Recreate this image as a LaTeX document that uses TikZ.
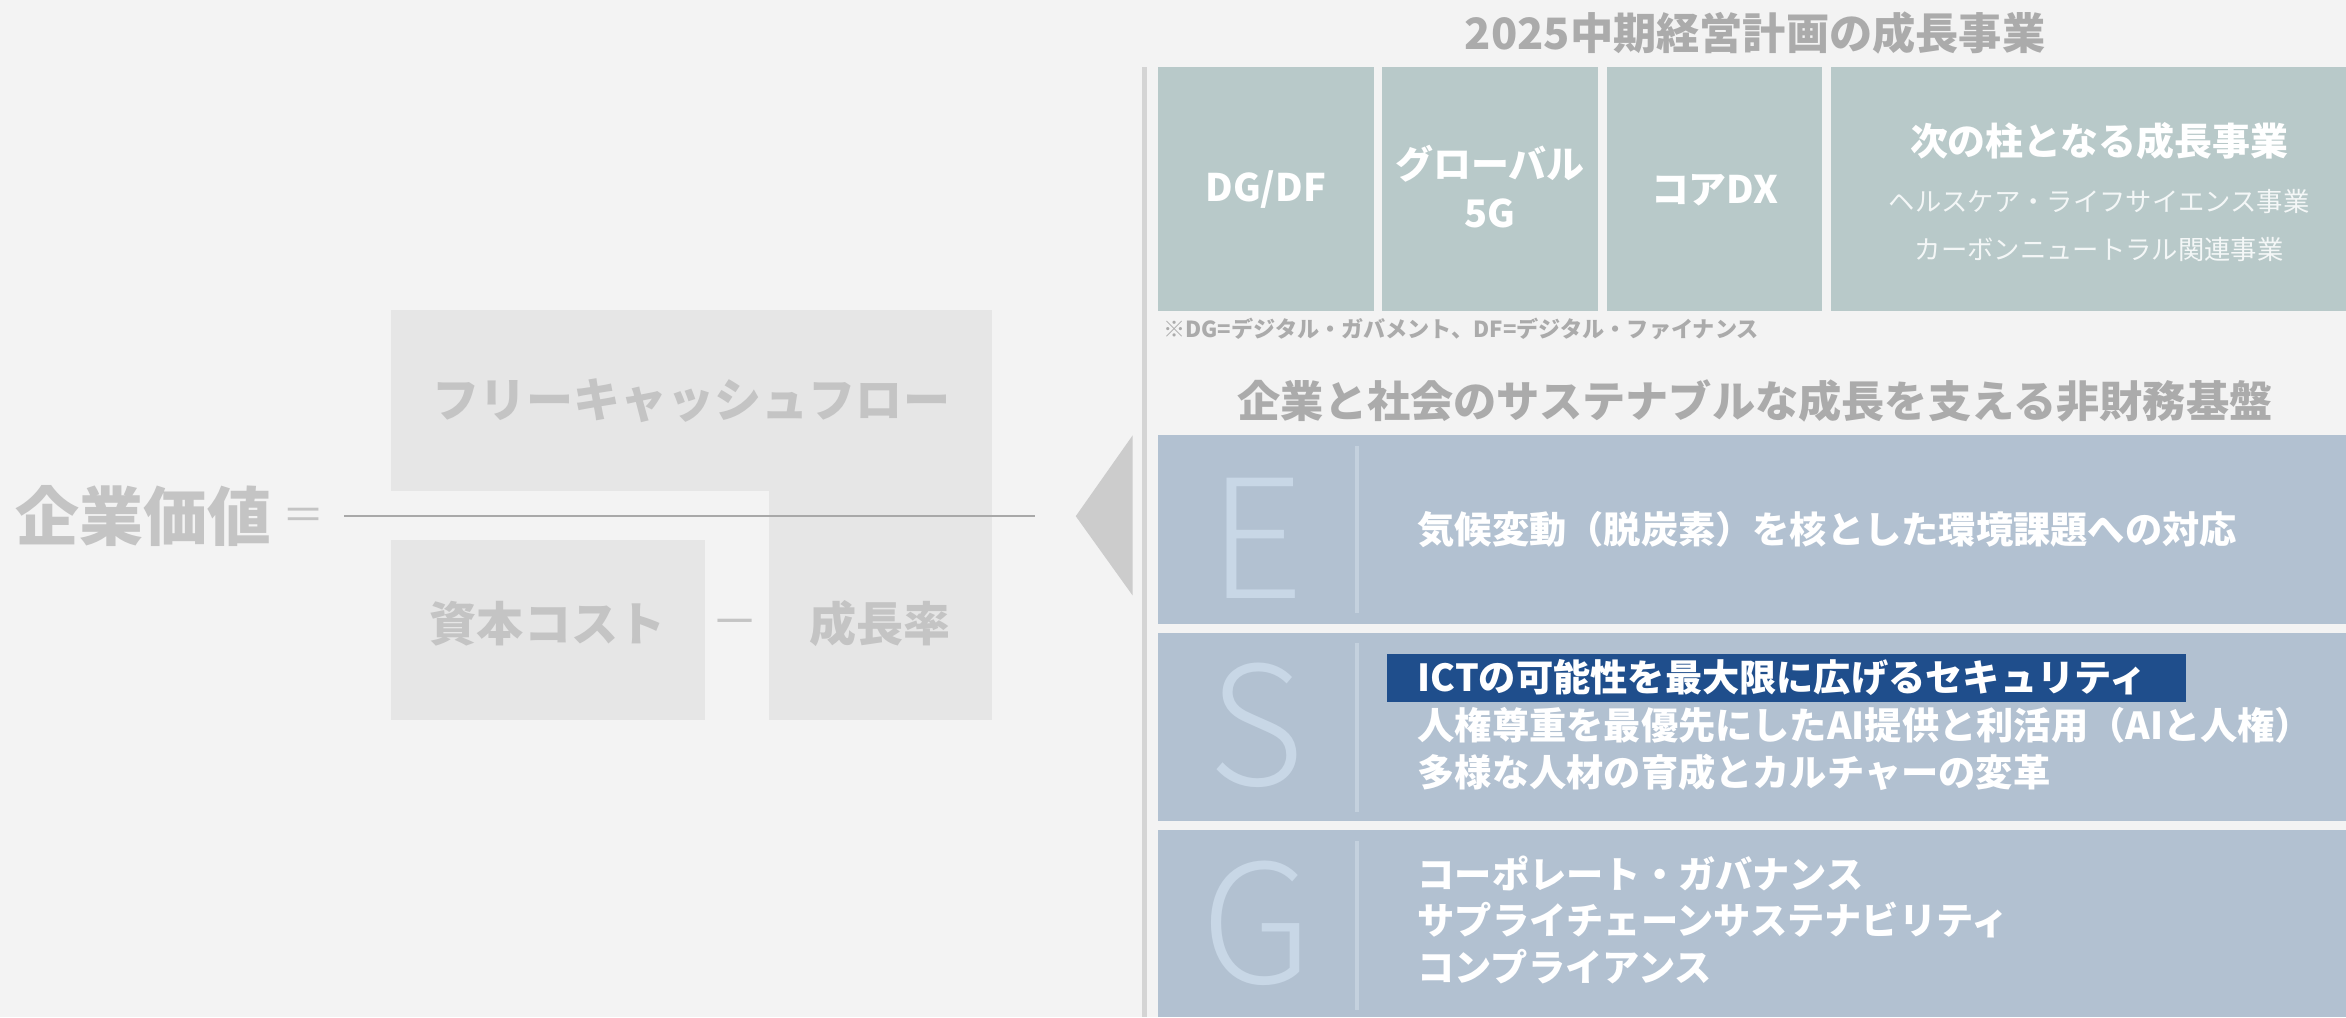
\documentclass[tikz,border=0pt]{standalone}
\usepackage{fontspec}
\setmainfont{Noto Sans CJK JP}
\newfontfamily\lightjp{Noto Sans CJK JP Light}
\usetikzlibrary{shapes,calc,positioning}

\definecolor{bgc}{HTML}{F3F3F3}
\definecolor{boxgray}{HTML}{E6E6E6}
\definecolor{lefttxt}{HTML}{C4C4C4}
\definecolor{headgray}{HTML}{ABABAB}
\definecolor{tealbox}{HTML}{B8C9C9}
\definecolor{esgbox}{HTML}{B2C1D1}
\definecolor{esgletter}{HTML}{C8D7E6}
\definecolor{esgsep}{HTML}{C4D1DE}
\definecolor{navy}{HTML}{1F4E8C}
\definecolor{trigray}{HTML}{CCCCCC}
\definecolor{fracgray}{HTML}{A8A8A8}

\begin{document}
\begin{tikzpicture}[x=0.014962cm,y=-0.014962cm,
  lefttext/.style={inner sep=0pt, text=lefttxt, font=\bfseries\fontsize{13.4}{13.4}\selectfont},
  heading/.style={inner sep=0pt, text=headgray, font=\bfseries\fontsize{12.3}{12.3}\selectfont},
  pillar/.style={inner sep=0pt, text=white, align=center, font=\bfseries\fontsize{10.8}{14}\selectfont},
  pillarsub/.style={inner sep=0pt, text=white!85!tealbox, align=center, font=\fontsize{7.5}{7.5}\selectfont},
  esgitem/.style={inner sep=0pt, anchor=west, text=white, font=\bfseries\fontsize{10.6}{10.6}\selectfont},
  esgchar/.style={inner sep=0pt, text=esgletter, font=\lightjp\fontsize{47}{47}\selectfont},
  sep/.style={esgsep, line width=1.2pt}]

  % background and frame
  \fill[bgc] (0,0) rectangle (1568,680);
  \useasboundingbox (0,0) rectangle (1568,680);

  % left side: formula
  \fill[boxgray] (261,207) rectangle (663,328);
  \fill[boxgray] (514,328) rectangle (663,481);
  \fill[boxgray] (261,361) rectangle (471,481);

  \node[inner sep=0pt, text=lefttxt, anchor=east, font=\bfseries\fontsize{18.2}{18.2}\selectfont] (value) at (182,345) {企業価値};
  \node[inner sep=0pt, text=lefttxt, font=\fontsize{12}{12}\selectfont] (eq) at (203,347) {＝};
  \node[lefttext] (fcf) at (462,268) {フリーキャッシュフロー};
  \node[lefttext] (cost) at (366,417) {資本コスト};
  \node[lefttext, font=\fontsize{13.4}{13.4}\selectfont] (minus) at (491,420) {－};
  \node[lefttext] (growth) at (588,417) {成長率};

  \coordinate (fracL) at (230,345);
  \coordinate (fracR) at (692,345);
  \draw[fracgray, line width=0.7pt] (fracL) -- (fracR);

  \fill[trigray] (719,345) -- (757,291) -- (757,398) -- cycle;
  \draw[trigray!85!white, line width=1.3pt] (765,45) -- (765,680);

  % growth businesses
  \node[heading] (plan) at (1173,22) {2025中期経営計画の成長事業};
  \fill[tealbox] (774,45) rectangle (918,208);
  \fill[tealbox] (924,45) rectangle (1068,208);
  \fill[tealbox] (1074,45) rectangle (1218,208);
  \fill[tealbox] (1224,45) rectangle (1568,208);

  \node[pillar] (dgdf) at (846,127) {DG/DF};
  \node[pillar] (global) at (996,125) {グローバル\\5G};
  \node[pillar] (coredx) at (1146,127) {コアDX};
  \node[pillar] (next) at (1403,94) {次の柱となる成長事業};
  \node[pillarsub] (health) at (1403,135) {ヘルスケア・ライフサイエンス事業};
  \node[pillarsub] (carbon) at (1403,167) {カーボンニュートラル関連事業};

  \node[inner sep=0pt, anchor=west, text=headgray, font=\bfseries\fontsize{6.3}{6.3}\selectfont] (note) at (777,220) {※DG=デジタル・ガバメント、DF=デジタル・ファイナンス};

  % ESG foundation
  \node[heading] (base) at (1173,268) {企業と社会のサステナブルな成長を支える非財務基盤};
  \fill[esgbox] (774,291) rectangle (1568,417);
  \fill[esgbox] (774,423) rectangle (1568,549);
  \fill[esgbox] (774,555) rectangle (1568,680);

  \draw[sep] (907,298) -- (907,410);
  \draw[sep] (907,430) -- (907,543);
  \draw[sep] (907,562) -- (907,675);

  \node[esgchar] (E) at (840,360) {E};
  \node[esgchar] (S) at (840,485) {S};
  \node[esgchar] (G) at (840,617) {G};

  \node[esgitem] (e1) at (947,354) {気候変動（脱炭素）を核とした環境課題への対応};

  \fill[navy] (927,437) rectangle (1461,469);
  \node[esgitem] (s1) at (947,453) {ICTの可能性を最大限に広げるセキュリティ};
  \node[esgitem] (s2) at (947,485) {人権尊重を最優先にしたAI提供と利活用（AIと人権）};
  \node[esgitem] (s3) at (947,516) {多様な人材の育成とカルチャーの変革};

  \node[esgitem] (g1) at (947,584) {コーポレート・ガバナンス};
  \node[esgitem] (g2) at (947,615) {サプライチェーンサステナビリティ};
  \node[esgitem] (g3) at (947,646) {コンプライアンス};
\end{tikzpicture}
\end{document}
